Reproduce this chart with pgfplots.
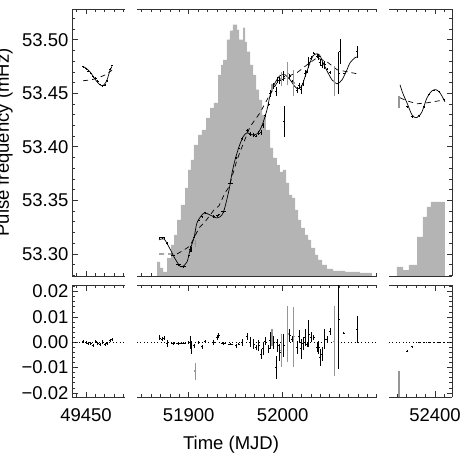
\documentclass[border=0pt]{standalone}
\usepackage{pgfplots}
\usepackage{pgfplotstable}
\pgfplotsset{compat=1.18}
\usepackage{fontspec}
\setmainfont{Liberation Sans}
\definecolor{histgray}{RGB}{180,180,180}
\definecolor{errgray}{RGB}{150,150,150}
\definecolor{framecol}{RGB}{50,50,50}
\newcommand{\bigfont}{\fontsize{18.5}{22}\selectfont}

% ---------- histogram (count rate, drawn in frequency units) ----------
\pgfplotstableread{
x y
51866.3 53.27
51866.3 53.2925
51869.5 53.2869
51872.7 53.2832
51877.0 53.2963
51881.2 53.3084
51884.4 53.3178
51887.6 53.3318
51891.8 53.3458
51896.1 53.3617
51899.3 53.3785
51902.4 53.3879
51905.6 53.4019
51909.9 53.4112
51914.1 53.4159
51918.4 53.4271
51922.7 53.4364
51926.9 53.4411
51931.2 53.4673
51934.4 53.4766
51936.5 53.4813
51940.7 53.5000
51943.9 53.5084
51947.1 53.5140
51951.4 53.5093
51953.5 53.5000
51957.8 53.5112
51959.9 53.4981
51962.0 53.4888
51965.2 53.4766
51968.4 53.4673
51971.6 53.4533
51974.8 53.4439
51978.0 53.4299
51982.2 53.4159
51986.5 53.3991
51989.7 53.3897
51993.9 53.3832
51997.1 53.3766
52000.3 53.3785
52003.5 53.3664
52006.7 53.3551
52009.9 53.3523
52013.1 53.3411
52016.3 53.3318
52019.5 53.3243
52023.7 53.3178
52026.9 53.3131
52030.1 53.3056
52034.4 53.2991
52037.6 53.2944
52041.8 53.2897
52047.1 53.2860
52053.5 53.2841
52066.3 53.2832
52082.2 53.2822
52094.9 53.2822
52094.9 53.27
}\histmid

\pgfplotstableread{
x y
52359.6 53.27
52359.6 53.2879
52366.0 53.2850
52372.3 53.2897
52380.9 53.3159
52387.2 53.3346
52391.5 53.3439
52395.7 53.3486
52410.6 53.3486
52410.6 53.27
}\histright

% ---------- models ----------
\pgfplotstableread{
x y
51868.4 53.3131
51873.7 53.3140
51879.0 53.3065
51884.4 53.2972
51889.7 53.2897
51892.9 53.2879
51898.2 53.2925
51901.4 53.3037
51905.6 53.3150
51908.8 53.3290
51914.1 53.3364
51917.3 53.3383
51922.7 53.3364
51930.1 53.3336
51935.4 53.3364
51938.6 53.3439
51942.9 53.3598
51946.1 53.3757
51949.3 53.3879
51953.5 53.4000
51957.8 53.4093
51962.0 53.4131
51967.3 53.4112
51972.7 53.4121
51975.9 53.4159
51979.0 53.4224
51983.3 53.4346
51986.5 53.4477
51991.8 53.4598
51997.1 53.4664
52002.4 53.4673
52007.8 53.4626
52013.1 53.4561
52016.3 53.4542
52020.5 53.4570
52023.7 53.4654
52029.0 53.4785
52032.2 53.4850
52036.5 53.4869
52039.7 53.4850
52042.9 53.4785
52047.1 53.4710
52052.4 53.4626
52057.8 53.4589
52063.1 53.4626
52068.4 53.4720
52071.6 53.4785
52076.9 53.4832
52080.1 53.4841
}\solidmid

\pgfplotstableread{
x y
51868.4 53.3000
51887.6 53.3000
51895.0 53.3037
51901.4 53.3075
51911.0 53.3243
51917.3 53.3299
51926.9 53.3411
51932.2 53.3449
51938.6 53.3570
51942.9 53.3626
51951.4 53.3879
51956.7 53.4000
51965.2 53.4187
51975.9 53.4318
51983.3 53.4439
51993.9 53.4598
52004.6 53.4654
52015.2 53.4692
52025.9 53.4766
52036.5 53.4832
52047.1 53.4794
52057.8 53.4720
52068.4 53.4701
52079.0 53.4682
}\dashmid

\pgfplotstableread{
x y
49447.1 53.4748
49450.0 53.4735
49453.0 53.4712
49456.0 53.4680
49459.0 53.4640
49462.0 53.4605
49465.0 53.4578
49467.0 53.4570
49469.0 53.4578
49471.0 53.4600
49473.0 53.4640
49475.0 53.4700
49477.5 53.4750
}\solidleft

\pgfplotstableread{
x y
49447.0 53.4617
49455.0 53.4625
49462.0 53.4640
49470.0 53.4670
49477.7 53.4715
}\dashleft

\pgfplotstableread{
x y
52362.8 53.4579
52366.0 53.4495
52370.2 53.4411
52375.5 53.4299
52379.8 53.4271
52383.0 53.4290
52386.2 53.4327
52391.5 53.4458
52396.8 53.4523
52401.1 53.4533
52405.3 53.4505
52410.6 53.4421
}\solidright

\pgfplotstableread{
x y
52362.8 53.4458
52370.0 53.4430
52380.9 53.4402
52391.5 53.4411
52410.6 53.4439
}\dashright

% ---------- data points: x, frequency, residual, x error, y error ----------
\pgfplotstableread{
x f r xe ye
51869.1 53.3150 0.0017 1.2 0.0010
51871.6 53.3150 0.0013 1.2 0.0008
51874.0 53.3152 0.0016 1.2 0.0008
51876.9 53.3096 -0.0004 1.2 0.0013
51883.3 53.2986 -0.0004 2.5 0.0005
51889.4 53.2898 -0.0004 2.5 0.0005
51894.7 53.2882 -0.0003 2.5 0.0005
51900.0 53.2989 -0.0001 1.2 0.0005
51901.7 53.3045 0.0000 1.2 0.0026
51902.4 53.3040 -0.0020 1.2 0.0026
51906.0 53.3157 -0.0013 1.2 0.0008
51910.6 53.3314 -0.0001 1.2 0.0005
51914.1 53.3347 -0.0017 1.2 0.0008
51917.7 53.3386 0.0004 1.2 0.0005
51926.6 53.3350 0.0000 1.2 0.0010
51930.1 53.3356 0.0020 1.2 0.0010
51931.9 53.3366 0.0026 1.2 0.0010
51937.2 53.3396 -0.0004 2.5 0.0005
51944.3 53.3663 -0.0007 2.5 0.0005
51950.7 53.3900 -0.0013 1.2 0.0008
51953.2 53.3986 -0.0007 1.2 0.0005
51956.7 53.4075 0.0000 1.2 0.0013
51962.0 53.4153 0.0022 1.2 0.0013
51965.5 53.4120 0.0000 1.2 0.0020
51969.1 53.4108 -0.0007 1.2 0.0020
51971.6 53.4100 -0.0020 1.2 0.0010
51974.5 53.4127 -0.0013 1.2 0.0020
51976.9 53.4134 -0.0046 1.2 0.0020
51979.0 53.4198 -0.0026 1.2 0.0026
51981.5 53.4294 0.0004 1.2 0.0016
51985.1 53.4394 -0.0026 1.2 0.0016
51986.8 53.4495 0.0007 1.2 0.0033
51990.4 53.4566 0.0000 1.2 0.0026
51993.2 53.4516 -0.0099 1.2 0.0046
51994.7 53.4622 -0.0013 1.2 0.0026
51996.8 53.4621 -0.0039 1.2 0.0033
52001.1 53.4659 -0.0013 1.2 0.0046
52007.4 53.4656 0.0026 1.2 0.0026
52009.9 53.4613 0.0013 1.2 0.0010
52015.2 53.4528 -0.0020 1.2 0.0026
52017.7 53.4570 0.0022 1.2 0.0026
52019.5 53.4537 -0.0026 1.2 0.0040
52021.6 53.4596 -0.0004 1.2 0.0026
52024.0 53.4682 0.0020 1.2 0.0033
52025.9 53.4703 -0.0007 1.2 0.0010
52027.7 53.4786 0.0033 1.2 0.0053
52030.1 53.4827 0.0020 1.2 0.0020
52033.0 53.4875 0.0020 1.2 0.0010
52036.5 53.4849 -0.0020 1.2 0.0020
52038.3 53.4840 -0.0020 1.2 0.0026
52040.0 53.4785 -0.0059 1.2 0.0033
52041.8 53.4764 -0.0046 1.2 0.0026
52044.7 53.4766 0.0013 1.2 0.0040
52047.1 53.4723 0.0013 1.2 0.0010
52050.6 53.4697 0.0042 1.2 0.0013
52059.6 53.4687 0.0092 1.2 0.0197
52064.9 53.4686 0.0036 1.2 0.0005
52079.0 53.4887 0.0049 1.2 0.0053
}\ptsmid

\pgfplotstableread{
x f r xe ye
51907.0 53.3096 -0.0114 1.2 0.0033
51988.6 53.4550 0.0020 1.2 0.0033
51998.5 53.4634 -0.0033 1.2 0.0066
52005.3 53.4683 0.0033 1.2 0.0110
52011.7 53.4597 0.0022 1.2 0.0118
52054.9 53.4614 0.0004 1.2 0.0138
}\ptsmidgray

\pgfplotstableread{
x f xe ye
52001.6 53.4234 1.2 0.0145
52061.0 53.4888 1.2 0.0117
}\ptsmidextra

\pgfplotstableread{
x f r xe ye
49447.1 53.4749 0.0003 1.0 0.0006
49450.0 53.4728 0.0000 1.0 0.0006
49452.5 53.4707 -0.0005 1.0 0.0006
49455.0 53.4690 -0.0005 1.0 0.0006
49457.8 53.4653 -0.0012 1.0 0.0006
49460.3 53.4643 0.0003 1.0 0.0006
49462.4 53.4615 -0.0005 1.0 0.0006
49464.9 53.4582 -0.0008 1.0 0.0006
49467.8 53.4571 0.0001 1.0 0.0006
49470.2 53.4577 -0.0008 1.0 0.0006
49472.7 53.4617 -0.0003 1.0 0.0006
49475.5 53.4726 0.0006 1.0 0.0006
49478.0 53.4762 0.0012 1.0 0.0006
}\ptsleft

\pgfplotstableread{
x f r xe ye
52370.2 53.4376 -0.0035 1.2 0.0005
52375.5 53.4282 -0.0017 1.2 0.0004
52383.0 53.4290 0.0000 1.5 0.0003
52388.3 53.4375 0.0000 1.5 0.0003
52393.6 53.4490 0.0000 1.5 0.0003
52398.9 53.4530 0.0000 1.5 0.0003
52404.3 53.4515 0.0000 1.5 0.0003
52409.6 53.4440 0.0000 1.5 0.0003
}\ptsright

\pgfplotstableread{
x f r xe ye
52361.7 53.4421 -0.0169 1.2 0.0055
}\ptsrightgray

\pgfplotsset{
  panel/.style={
    scale only axis,
    scaled x ticks=false, scaled y ticks=false,
    axis x line*=box,
    axis line style={framecol, line width=0.9pt},
    every outer x axis line/.append style={-},
    every outer y axis line/.append style={-},
    tick style={framecol, line width=0.7pt},
    tick align=inside,
    major tick length=5.5pt,
    minor tick length=3pt,
    ticklabel style={font=\bigfont, text=black},
    xticklabel style={yshift=-8.5pt},
  },
  toprow/.style={height=267pt, ymin=53.2794, ymax=53.5287,
    ytick={53.30,53.35,53.40,53.45,53.50},
    minor ytick={53.28,53.29,53.31,53.32,53.33,53.34,53.36,53.37,53.38,53.39,53.41,53.42,53.43,53.44,53.46,53.47,53.48,53.49,53.51,53.52},
    xticklabels={}},
  botrow/.style={height=112pt, ymin=-0.0216, ymax=0.0226,
    ytick={-0.02,-0.01,0,0.01,0.02},
    minor ytick={-0.018,-0.016,-0.014,-0.012,-0.008,-0.006,-0.004,-0.002,0.002,0.004,0.006,0.008,0.012,0.014,0.016,0.018,0.022}},
  leftcol/.style={width=53pt, xmin=49435.1, xmax=49491.5, xtick={49450},
    minor xtick={49440,49460,49470,49480,49490}, axis y line*=left},
  midcol/.style={width=240pt, xmin=51845.0, xmax=52100.3, xtick={51900,52000},
    minor xtick={51850,51860,...,52100}, axis y line=none},
  rightcol/.style={width=63pt, xmin=52351.1, xmax=52418.1, xtick={52400},
    minor xtick={52360,52370,...,52410}, axis y line*=right, yticklabels={}},
  ebars/.style={draw=none, mark=none,
    error bars/.cd, x dir=both, x explicit, y dir=both, y explicit,
    error mark=none, error bar style={draw=#1, line width=0.8pt, solid}},
  gbars/.style={draw=none, mark=none,
    error bars/.cd, x dir=both, x explicit, y dir=both, y explicit,
    error mark=none, error bar style={draw=errgray, line width=1.5pt, solid}},
  solidm/.style={black, line width=0.7pt, smooth, tension=0.5},
  dashm/.style={black, line width=0.7pt, dash pattern=on 5pt off 4pt},
  zeroline/.style={black, line width=0.7pt, dash pattern=on 0.8pt off 2.6pt},
}

\begin{document}
\begin{tikzpicture}
\path[use as bounding box] (0pt,0pt) rectangle (463pt,463pt);

% ===== top row =====
\begin{axis}[panel, toprow, leftcol, at={(72pt,187pt)}, anchor=south west,
  yticklabels={53.30,53.35,53.40,53.45,53.50}]
  \addplot[solidm] table {\solidleft};
  \addplot[dashm] table {\dashleft};
  \addplot[ebars=black] table[x=x, y=f, x error=xe, y error=ye] {\ptsleft};
\end{axis}

\begin{axis}[panel, toprow, midcol, at={(137pt,187pt)}, anchor=south west]
  \addplot[fill=histgray, draw=none, const plot] table {\histmid};
  \addplot[solidm] table {\solidmid};
  \addplot[dashm] table {\dashmid};
  \addplot[gbars] table[x=x, y=f, x error=xe, y error=ye] {\ptsmidgray};
  \addplot[ebars=black] table[x=x, y=f, x error=xe, y error=ye] {\ptsmid};
  \addplot[ebars=black] table[x=x, y=f, x error=xe, y error=ye] {\ptsmidextra};
\end{axis}

\begin{axis}[panel, toprow, rightcol, at={(389pt,187pt)}, anchor=south west]
  \addplot[fill=histgray, draw=none, const plot] table {\histright};
  \addplot[solidm] table {\solidright};
  \addplot[dashm] table {\dashright};
  \addplot[gbars] table[x=x, y=f, x error=xe, y error=ye] {\ptsrightgray};
  \addplot[ebars=black] table[x=x, y=f, x error=xe, y error=ye] {\ptsright};
\end{axis}

% ===== bottom row =====
\begin{axis}[panel, botrow, leftcol, at={(72pt,66pt)}, anchor=south west,
  xticklabels={49450},
  yticklabels={−0.02,−0.01,0.00,0.01,0.02}]
  \addplot[zeroline] coordinates {(49435.1,0) (49491.5,0)};
  \addplot[ebars=black] table[x=x, y=r, x error=xe, y error=ye] {\ptsleft};
\end{axis}

\begin{axis}[panel, botrow, midcol, at={(137pt,66pt)}, anchor=south west,
  xticklabels={51900,52000}]
  \addplot[zeroline] coordinates {(51845.0,0) (52100.3,0)};
  \addplot[gbars] table[x=x, y=r, x error=xe, y error=ye] {\ptsmidgray};
  \addplot[ebars=black] table[x=x, y=r, x error=xe, y error=ye] {\ptsmid};
\end{axis}

\begin{axis}[panel, botrow, rightcol, at={(389pt,66pt)}, anchor=south west,
  xticklabels={52400}]
  \addplot[zeroline] coordinates {(52351.1,0) (52418.1,0)};
  \addplot[gbars] table[x=x, y=r, x error=xe, y error=ye] {\ptsrightgray};
  \addplot[ebars=black] table[x=x, y=r, x error=xe, y error=ye] {\ptsright};
\end{axis}

\node[rotate=90, anchor=base, font=\bigfont] at (9pt,320.5pt) {Pulse frequency (mHz)};
\node[anchor=base, font=\bigfont] at (231pt,13pt) {Time (MJD)};
\end{tikzpicture}
\end{document}
